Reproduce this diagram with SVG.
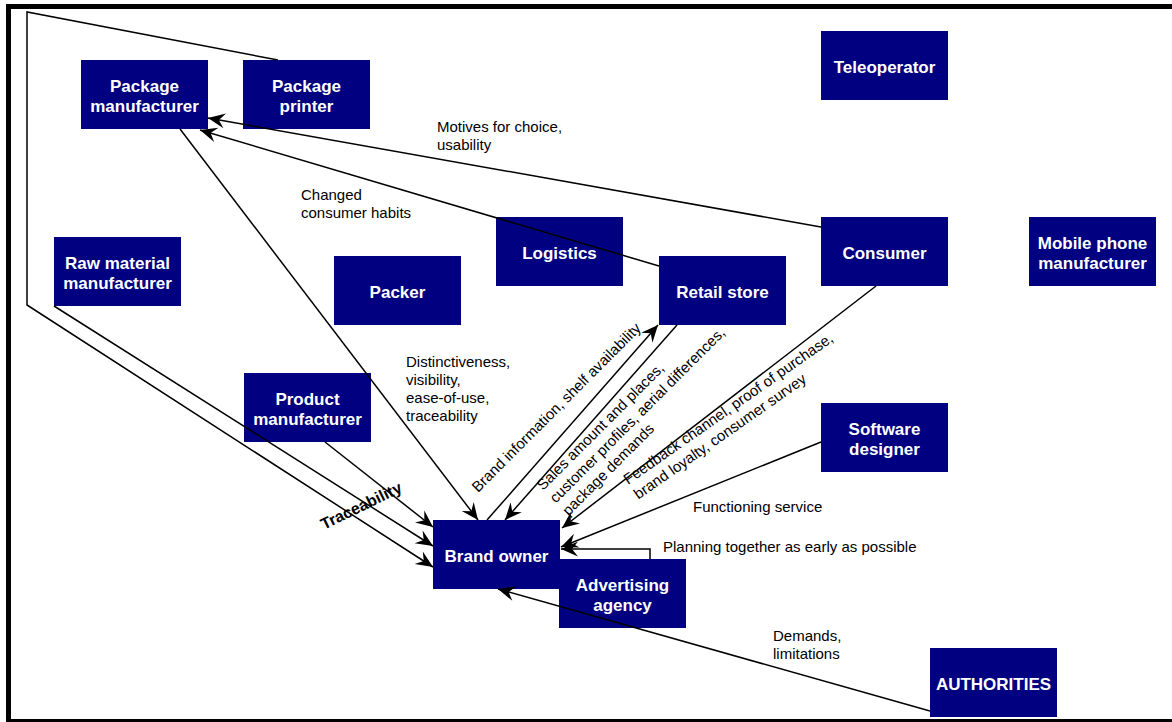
<svg xmlns="http://www.w3.org/2000/svg" width="1172" height="722" viewBox="0 0 1172 722">
  <defs>
    <marker id="arrow" markerUnits="userSpaceOnUse" markerWidth="20" markerHeight="18" viewBox="-18 -9 20 18" refX="0" refY="0" orient="auto" overflow="visible">
      <path d="M0,0 L-17,-7.5 L-11,0 L-17,7.5 Z" fill="#000"/>
    </marker>
    <style>
      .node rect { fill: #000080; }
      .node text { fill: #fff; font-family: "Liberation Sans", Arial, sans-serif; font-weight: bold; font-size: 17px; text-anchor: middle; }
      .conn { fill: none; stroke: #000; stroke-width: 1.5; }
      .arr { marker-end: url(#arrow); }
      .lbl { fill: #000; font-family: "Liberation Sans", Arial, sans-serif; font-size: 15px; }
      .bold { font-weight: bold; font-size: 16px; }
    </style>
  </defs>

  <rect width="1172" height="722" fill="#fff"/>
  <!-- outer frame -->
  <rect x="8.5" y="6.5" width="1180" height="715" fill="none" stroke="#000" stroke-width="5"/>

  <!-- nodes -->
  <g id="package-manufacturer" class="node"><rect x="81" y="60" width="127" height="69"/><text x="144.5" y="91.5">Package<tspan x="144.5" dy="20.5">manufacturer</tspan></text></g>
  <g id="package-printer" class="node"><rect x="243" y="60" width="127" height="69"/><text x="306.5" y="91.5">Package<tspan x="306.5" dy="20.5">printer</tspan></text></g>
  <g id="teleoperator" class="node"><rect x="821" y="31" width="127" height="69"/><text x="884.5" y="73">Teleoperator</text></g>
  <g id="consumer" class="node"><rect x="821" y="217" width="127" height="69"/><text x="884.5" y="259">Consumer</text></g>
  <g id="mobile-phone-manufacturer" class="node"><rect x="1029" y="217" width="127" height="69"/><text x="1092.5" y="248.5">Mobile phone<tspan x="1092.5" dy="20.5">manufacturer</tspan></text></g>
  <g id="logistics" class="node"><rect x="496" y="217" width="127" height="69"/><text x="559.5" y="259">Logistics</text></g>
  <g id="packer" class="node"><rect x="334" y="256" width="127" height="69"/><text x="397.5" y="298">Packer</text></g>
  <g id="retail-store" class="node"><rect x="659" y="256" width="127" height="69"/><text x="722.5" y="298">Retail store</text></g>
  <g id="raw-material-manufacturer" class="node"><rect x="54" y="237" width="127" height="69"/><text x="117.5" y="268.5">Raw material<tspan x="117.5" dy="20.5">manufacturer</tspan></text></g>
  <g id="product-manufacturer" class="node"><rect x="244" y="373" width="127" height="69"/><text x="307.5" y="404.5">Product<tspan x="307.5" dy="20.5">manufacturer</tspan></text></g>
  <g id="software-designer" class="node"><rect x="821" y="403" width="127" height="69"/><text x="884.5" y="434.5">Software<tspan x="884.5" dy="20.5">designer</tspan></text></g>
  <g id="brand-owner" class="node"><rect x="433" y="520" width="127" height="69"/><text x="496.5" y="562">Brand owner</text></g>
  <g id="advertising-agency" class="node"><rect x="559" y="559" width="127" height="69"/><text x="622.5" y="590.5">Advertising<tspan x="622.5" dy="20.5">agency</tspan></text></g>
  <g id="authorities" class="node"><rect x="930" y="648" width="127" height="69"/><text x="993.5" y="690">AUTHORITIES</text></g>

  <!-- connectors, drawn over the boxes they cross -->
  <g id="connectors">
    <path class="conn arr" d="M278,60 L27,12 L27,305 L433,567"/>
    <path class="conn arr" d="M54,306 L433,546"/>
    <path class="conn arr" d="M325,442 L433,527"/>
    <path class="conn arr" d="M180,129 L478,520"/>
    <path class="conn arr" d="M487,520 L658,325"/>
    <path class="conn arr" d="M677,325 L505,520"/>
    <path class="conn arr" d="M876,286 L562,528"/>
    <path class="conn arr" d="M821,442 L561,547"/>
    <path class="conn arr" d="M650,559 L650,549 L561,549"/>
    <path class="conn arr" d="M821,227 L208,118"/>
    <path class="conn arr" d="M659,266 L200,130"/>
    <path class="conn arr" d="M930,711 L498,589"/>
  </g>

  <!-- connector labels -->
  <g id="labels">
    <text class="lbl" x="437" y="132">Motives for choice,<tspan x="437" dy="18">usability</tspan></text>
    <text class="lbl" x="301" y="200">Changed<tspan x="301" dy="18">consumer habits</tspan></text>
    <text class="lbl" x="406" y="367">Distinctiveness,<tspan x="406" dy="18">visibility,</tspan><tspan x="406" dy="18">ease-of-use,</tspan><tspan x="406" dy="18">traceability</tspan></text>
    <text class="lbl" x="693" y="512">Functioning service</text>
    <text class="lbl" x="663" y="552">Planning together as early as possible</text>
    <text class="lbl" x="773" y="641">Demands,<tspan x="773" dy="18">limitations</tspan></text>
    <text class="lbl bold" transform="translate(324,530) rotate(-26)">Traceability</text>
    <text class="lbl" transform="translate(478,493) rotate(-45)">Brand information, shelf availability</text>
    <text class="lbl" transform="translate(543,491) rotate(-45)">Sales amount and places,<tspan x="0" dy="18">customer profiles, aerial differences,</tspan><tspan x="0" dy="18">package demands</tspan></text>
    <text class="lbl" transform="translate(628,485) rotate(-35)">Feedback channel, proof of purchase,<tspan x="0" dy="18">brand loyalty, consumer survey</tspan></text>
  </g>
</svg>
